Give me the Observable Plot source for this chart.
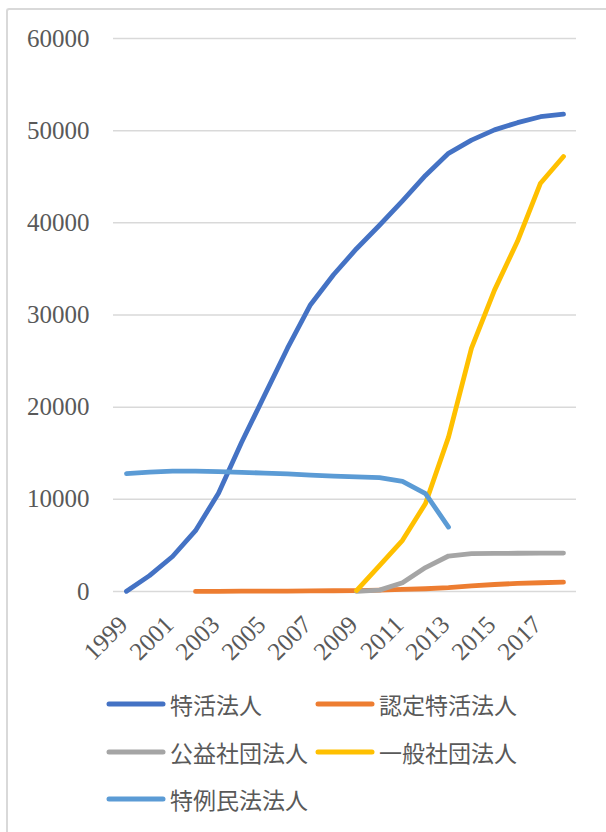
<!DOCTYPE html>
<html>
<head>
<meta charset="utf-8">
<script src="https://cdn.jsdelivr.net/npm/d3@7"></script>
<script src="https://cdn.jsdelivr.net/npm/@observablehq/plot@0.6"></script>
<style>
  html, body { margin: 0; padding: 0; background: #fff; }
  #wrap { position: relative; width: 606px; height: 832px; overflow: hidden; }
  #frame { position: absolute; left: 6px; top: 8px; width: 700px; height: 900px;
           border-left: 2px solid #d9d9d9; border-top: 2px solid #d9d9d9; border-radius: 3px; }
  #chart { position: absolute; left: 0; top: 0; }
  .leg { position: absolute; display: flex; align-items: center;
         font-family: "Noto Sans CJK JP", sans-serif; font-size: 23px; color: #595959; white-space: nowrap; }
  .leg svg { margin-right: 4px; }
</style>
</head>
<body>
<div id="wrap">
  <div id="frame"></div>
  <div id="chart"></div>
</div>
<script>
// Years on the category axis
const years = d3.range(1999, 2019);
const yTicks = [0, 10000, 20000, 30000, 40000, 50000, 60000];
const xTickYears = years.filter(y => y % 2 === 1);

// Series names and colours
const seriesNames = ["特活法人", "認定特活法人", "公益社団法人", "一般社団法人", "特例民法法人"];
const seriesColors = ["#4472C4", "#ED7D31", "#A5A5A5", "#FFC000", "#5B9BD5"];

// Counts per year, 1999–2018 (null = not yet / no longer counted)
const tokkatsu = [23, 1724, 3800, 6596, 10664, 16160, 21280, 26394, 31115, 34369,
                  37192, 39732, 42385, 45138, 47540, 48979, 50090, 50867, 51514, 51786];
const nintei = [null, null, null, 10, 20, 30, 40, 50, 60, 80,
                100, 150, 220, 300, 420, 600, 760, 880, 950, 1010];
const koeki = [null, null, null, null, null, null, null, null, null, null,
               20, 150, 950, 2600, 3850, 4100, 4130, 4150, 4160, 4170];
const ippan = [null, null, null, null, null, null, null, null, null, null,
               100, 2800, 5550, 9550, 16750, 26400, 32700, 38000, 44300, 47200];
const tokurei = [12790, 12950, 13050, 13050, 13000, 12930, 12850, 12770, 12620, 12520,
                 12430, 12360, 11960, 10620, 6990, null, null, null, null, null];

const seriesValues = [tokkatsu, nintei, koeki, ippan, tokurei];

// Long table built from the arrays above
const rows = [];
seriesNames.forEach((name, s) => {
  seriesValues[s].forEach((v, i) => {
    if (v != null) rows.push({series: name, year: years[i], value: v});
  });
});

const serif = "'Liberation Serif', 'DejaVu Serif', serif";

const chart = Plot.plot({
  width: 606,
  height: 672,
  marginLeft: 113,
  marginRight: 30,
  marginTop: 38,
  marginBottom: 81,
  style: {background: "transparent", overflow: "visible", fontFamily: serif},
  x: {type: "point", domain: years, padding: 0.5, label: null},
  y: {domain: [0, 60000], label: null},
  color: {domain: seriesNames, range: seriesColors},
  marks: [
    Plot.ruleY(yTicks, {stroke: "#d9d9d9", strokeWidth: 1.5}),
    Plot.axisY({ticks: yTicks, tickSize: 0, tickPadding: 24, tickFormat: d => String(d),
                fontSize: 25, fill: "#595959", label: null}),
    Plot.axisX({ticks: xTickYears, tickSize: 0, tickPadding: 29, dx: -3, tickRotate: -45,
                tickFormat: d => String(d), fontSize: 25, fill: "#595959", label: null}),
    Plot.line(rows, {x: "year", y: "value", z: "series", stroke: "series",
                     strokeWidth: 4.8, strokeLinecap: "round", strokeLinejoin: "round"})
  ]
});
// Axis label typography: numeric tick labels on both axes
d3.select(chart).selectAll("text")
  .filter(function() { return /^\d+$/.test(this.textContent.trim()); })
  .attr("font-size", 25).attr("font-family", serif);
document.getElementById("chart").appendChild(chart);

// Legend below the plot area
const legendPos = [
  {left: 106, top: 704}, {left: 315, top: 704},
  {left: 106, top: 752}, {left: 315, top: 752},
  {left: 106, top: 799}
];
const wrap = document.getElementById("wrap");
seriesNames.forEach((name, i) => {
  const item = document.createElement("div");
  item.className = "leg";
  item.style.left = legendPos[i].left + "px";
  item.style.top = (legendPos[i].top - 16) + "px";
  item.style.height = "32px";
  item.innerHTML = `<svg width="60" height="10"><line x1="3" y1="5" x2="57" y2="5" stroke="${seriesColors[i]}" stroke-width="5" stroke-linecap="round"/></svg><span>${name}</span>`;
  wrap.appendChild(item);
});
</script>
</body>
</html>
